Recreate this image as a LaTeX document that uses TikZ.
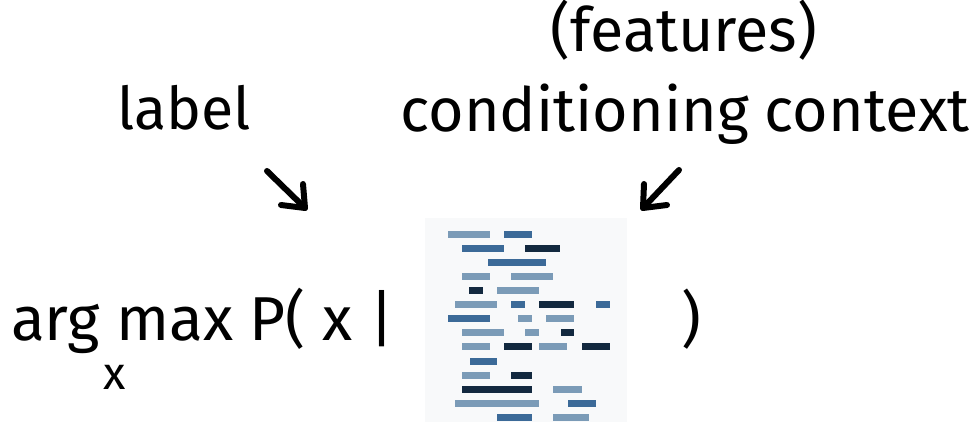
\documentclass[tikz,border=0pt]{standalone}
\usepackage{fontspec}
\setmainfont{Fira Sans}
\definecolor{barlight}{HTML}{7B9BB7}
\definecolor{barmid}{HTML}{3C6A98}
\definecolor{bardark}{HTML}{13293F}
\definecolor{panel}{HTML}{F8F9FA}
\begin{document}
\begin{tikzpicture}[x=1pt,y=-1pt,
  txt/.style={inner sep=0pt, anchor=base, font=\fontsize{61}{65}\selectfont},
  subtxt/.style={inner sep=0pt, anchor=base, font=\fontsize{46}{50}\selectfont},
  handarrow/.style={line width=6pt, line cap=round, line join=round, black}]
\useasboundingbox (0,0) rectangle (975,422);

% labels above the formula
\node[txt] (features) at (684,52) {(features)};
\node[txt] (context) at (685,132) {conditioning context};
\node[txt, font=\fontsize{59}{63}\selectfont] (label) at (184,130) {label};

% the formula
\node[txt, anchor=base west, font=\fontsize{62}{66}\selectfont] (formula) at (11,340) {arg max P( x |};
\node[subtxt] (sub) at (115,389) {x};
\node[txt] (close) at (691,340) {)};

% document thumbnail: panel and code-like bars
\fill[panel] (425,218) rectangle (627,422);
\node[inner sep=0pt, minimum width=202pt, minimum height=204pt] (doc) at (526,320) {};
\foreach \xa/\xb/\yy/\cc in {
  448/490/231/barlight, 504/532/231/barmid,
  462/504/245/barmid, 525/560/245/bardark,
  488/546/259/barmid,
  462/490/273/barlight, 511/553/273/barlight,
  469/483/287/bardark, 497/539/287/barlight,
  455/497/301/barlight, 511/525/301/barmid, 539/574/301/bardark, 596/610/301/barmid,
  448/490/315/barmid, 518/532/315/barlight, 546/574/315/barlight,
  462/504/329/barlight, 525/539/329/barlight, 561/574/329/bardark,
  462/490/343/barlight, 504/532/343/bardark, 539/567/343/barlight, 582/610/343/bardark,
  470/497/358/barmid,
  462/490/372/barlight, 511/532/372/bardark,
  462/532/386/bardark, 553/582/386/barlight,
  455/539/400/barlight, 568/596/400/barmid,
  497/532/414/barmid, 553/589/414/barlight}
  \fill[\cc] (\xa,\yy) rectangle (\xb,\yy+7);

% hand-drawn arrows
\coordinate (la) at (267,171);
\coordinate (lt) at (305,208);
\coordinate (lu) at (303,184);
\coordinate (ll) at (281,205);
\draw[handarrow] (la) -- (lt);
\draw[handarrow] (lu) -- (lt) -- (ll);

\coordinate (ra) at (679,170);
\coordinate (rt) at (643,208);
\coordinate (ru) at (644,184);
\coordinate (rr) at (667,205);
\draw[handarrow] (ra) -- (rt);
\draw[handarrow] (ru) -- (rt) -- (rr);
\end{tikzpicture}
\end{document}
